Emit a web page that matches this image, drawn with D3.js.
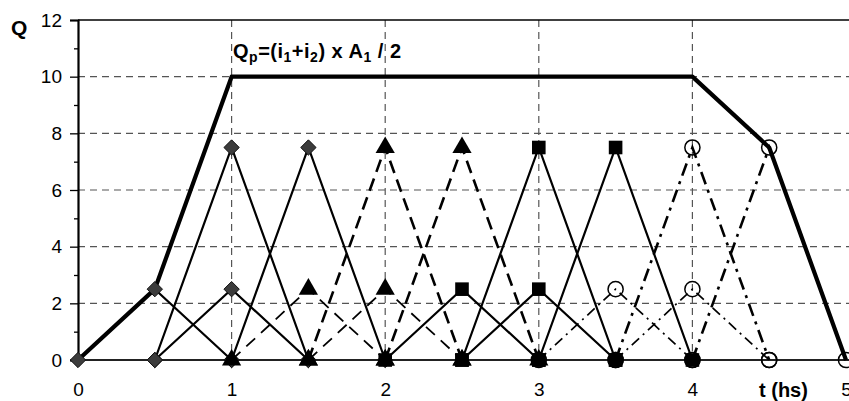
<!DOCTYPE html>
<html>
<head>
<meta charset="utf-8">
<script src="https://cdn.jsdelivr.net/npm/d3@7"></script>
<style>
  html, body { margin: 0; padding: 0; background: #fff; }
  svg { display: block; font-family: "Liberation Sans", Arial, sans-serif; }
</style>
</head>
<body>
<svg id="chart" width="849" height="401"></svg>
<script>
// Peak discharge envelope Qp = (i1+i2) x A1 / 2
const envelopeT = [0, 0.5, 1, 4, 4.5, 5];
const envelopeQ = [0, 2.5, 10, 10, 7.5, 0];

// Elementary triangular hydrographs, grouped by block (t values and Q values)
const diamondT = [[0, 0.5, 1], [0.5, 1, 1.5], [0.5, 1, 1.5], [1, 1.5, 2]];
const diamondQ = [[0, 2.5, 0], [0, 7.5, 0], [0, 2.5, 0], [0, 7.5, 0]];

const triangleT = [[1, 1.5, 2], [1.5, 2, 2.5], [1.5, 2, 2.5], [2, 2.5, 3]];
const triangleQ = [[0, 2.5, 0], [0, 7.5, 0], [0, 2.5, 0], [0, 7.5, 0]];

const squareT = [[2, 2.5, 3], [2.5, 3, 3.5], [2.5, 3, 3.5], [3, 3.5, 4]];
const squareQ = [[0, 2.5, 0], [0, 7.5, 0], [0, 2.5, 0], [0, 7.5, 0]];

const circleT = [[3, 3.5, 4], [3.5, 4, 4.5], [3.5, 4, 4.5], [4, 4.5, 5]];
const circleQ = [[0, 2.5, 0], [0, 7.5, 0], [0, 2.5, 0], [0, 7.5, 0]];

const xTicks = [0, 1, 2, 3, 4, 5];
const yTicks = [0, 2, 4, 6, 8, 10, 12];
const yMinorTicks = [1, 3, 5, 7, 9, 11];

const svg = d3.select("#chart");
const x = d3.scaleLinear().domain([0, 5]).range([78, 846]);
const y = d3.scaleLinear().domain([0, 12]).range([360, 20]);

// grid
const grid = svg.append("g");
grid.selectAll("line.h").data(yTicks.filter(v => v > 0 && v < 12)).join("line")
  .attr("x1", x(0)).attr("x2", 849)
  .attr("y1", d => y(d)).attr("y2", d => y(d))
  .attr("stroke", "#555").attr("stroke-width", 1.2).attr("stroke-dasharray", "7,5");
grid.selectAll("line.v").data(xTicks.filter(v => v > 0 && v < 5)).join("line")
  .attr("x1", d => x(d)).attr("x2", d => x(d))
  .attr("y1", y(12)).attr("y2", y(0))
  .attr("stroke", "#555").attr("stroke-width", 1.2).attr("stroke-dasharray", "7,5");

// top border
svg.append("line").attr("x1", x(0)).attr("x2", 849).attr("y1", y(12)).attr("y2", y(12))
  .attr("stroke", "#000").attr("stroke-width", 1.6);

// y axis
const yAxis = d3.axisLeft(y).tickValues(yTicks).tickSize(8).tickPadding(8).tickFormat(d3.format("d"));
const gy = svg.append("g").attr("transform", `translate(${x(0)},0)`).call(yAxis);
gy.select(".domain").attr("stroke", "#000").attr("stroke-width", 2.2);
gy.selectAll(".tick line").attr("stroke", "#000").attr("stroke-width", 1.3);
gy.selectAll(".tick text").attr("font-size", 19).attr("fill", "#000")
  .attr("font-family", "Liberation Sans, Arial, sans-serif");
const yMinor = d3.axisLeft(y).tickValues(yMinorTicks).tickSize(4).tickFormat("");
const gym = svg.append("g").attr("transform", `translate(${x(0)},0)`).call(yMinor);
gym.select(".domain").remove();
gym.selectAll(".tick line").attr("stroke", "#000").attr("stroke-width", 1.3);

// x axis
const xAxis = d3.axisBottom(x).tickValues(xTicks).tickSize(0).tickPadding(23).tickFormat(d3.format("d"));
const gx = svg.append("g").attr("transform", `translate(0,${y(0)})`).call(xAxis);
gx.select(".domain").remove();
gx.selectAll(".tick text").attr("font-size", 19).attr("fill", "#000")
  .attr("font-family", "Liberation Sans, Arial, sans-serif");
svg.append("line").attr("x1", x(0)).attr("x2", 849).attr("y1", y(0)).attr("y2", y(0))
  .attr("stroke", "#222").attr("stroke-width", 2);

const line = d3.line().x(d => x(d[0])).y(d => y(d[1]));
const zipPts = (ts, qs) => ts.map((t, i) => [t, qs[i]]);

// envelope
svg.append("path").datum(zipPts(envelopeT, envelopeQ))
  .attr("d", line).attr("fill", "none").attr("stroke", "#000")
  .attr("stroke-width", 4.2).attr("stroke-linejoin", "round");

// hydrograph groups: peak 2.5 (small) and 7.5 (large) share a marker but differ in stroke
const groups = [
  { T: diamondT, Q: diamondQ, small: { w: 2.2, dash: null }, large: { w: 2.2, dash: null }, marker: "diamond" },
  { T: triangleT, Q: triangleQ, small: { w: 1.8, dash: "12,8" }, large: { w: 2.6, dash: "13,7" }, marker: "triangle" },
  { T: squareT, Q: squareQ, small: { w: 2.2, dash: null }, large: { w: 2.2, dash: null }, marker: "square" },
  { T: circleT, Q: circleQ, small: { w: 1.7, dash: "10,5,2,5" }, large: { w: 2.6, dash: "13,6,3,6" }, marker: "circle" }
];

const lines = svg.append("g");
groups.forEach(g => {
  g.T.forEach((ts, i) => {
    const pts = zipPts(ts, g.Q[i]);
    const st = d3.max(g.Q[i]) > 5 ? g.large : g.small;
    lines.append("path").datum(pts).attr("d", line)
      .attr("fill", "none").attr("stroke", "#000")
      .attr("stroke-width", st.w)
      .attr("stroke-dasharray", st.dash);
  });
});

const markers = svg.append("g");
const symbols = {
  diamond: { type: d3.symbolDiamond2, size: 150, fill: "#3c3c3c", stroke: "#111", sw: 1 },
  triangle: { type: d3.symbolTriangle, size: 160, fill: "#000", stroke: "none", sw: 0 },
  square: { type: d3.symbolSquare, size: 185, fill: "#000", stroke: "none", sw: 0 },
  circle: { type: d3.symbolCircle, size: 180, fill: "none", stroke: "#000", sw: 1.5 }
};
groups.forEach(g => {
  const s = symbols[g.marker];
  const pts = g.T.flatMap((ts, i) => zipPts(ts, g.Q[i]));
  markers.selectAll(null).data(pts).join("path")
    .attr("transform", d => `translate(${x(d[0])},${y(d[1])})`)
    .attr("d", d3.symbol().type(s.type).size(s.size))
    .attr("fill", s.fill).attr("stroke", s.stroke).attr("stroke-width", s.sw);
});

// labels
svg.append("text").attr("x", 11).attr("y", 35).attr("font-size", 21)
  .attr("font-weight", "bold").text("Q");
svg.append("text").attr("x", 759).attr("y", 397).attr("font-size", 20)
  .attr("font-weight", "bold").text("t (hs)");

const title = svg.append("text").attr("x", 233).attr("y", 58)
  .attr("font-size", 20).attr("font-weight", "bold").attr("letter-spacing", 0.5);
const parts = [["Q", 0], ["p", 1], ["=(i", 0], ["1", 1], ["+i", 0], ["2", 1], [") x A", 0], ["1", 1], [" / 2", 0]];
let prevSub = 0;
parts.forEach(([s, sub]) => {
  const shift = sub ? 4 : 0;
  title.append("tspan").attr("dy", shift - prevSub)
    .attr("font-size", sub ? 14 : 20).text(s);
  prevSub = shift;
});
</script>
</body>
</html>
